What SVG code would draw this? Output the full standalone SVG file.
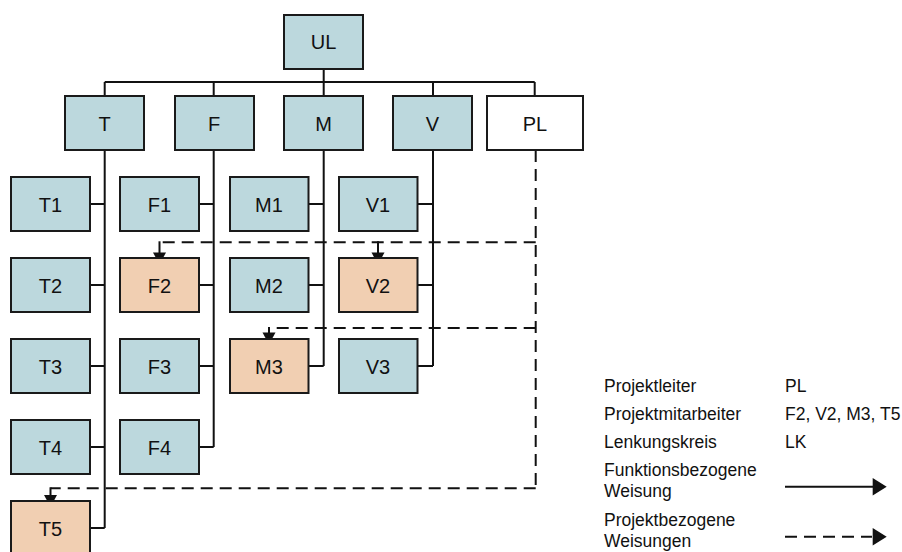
<svg xmlns="http://www.w3.org/2000/svg" width="902" height="552" viewBox="0 0 902 552">
<style>
.b{fill:#BCD8DD;stroke:#1a1a1a;stroke-width:2}
.o{fill:#F1CFB2;stroke:#1a1a1a;stroke-width:2}
.w{fill:#ffffff;stroke:#1a1a1a;stroke-width:2}
.t{font-family:"Liberation Sans",Arial,sans-serif;font-size:20px;fill:#111;text-anchor:middle}
.l{font-family:"Liberation Sans",Arial,sans-serif;font-size:17.5px;fill:#111}
.c{fill:none;stroke:#111;stroke-width:2}
.d{fill:none;stroke:#111;stroke-width:2;stroke-dasharray:12 7}
.h{fill:#111}
</style>
<g id="connectors">
<path class="c" d="M323.7,69 V96 M104.7,82 H534.7 M104.7,82 V96 M213.7,82 V96 M433,82 V96 M534.7,82 V96"/>
<path class="c" d="M104.7,150 V528 M90,204 H104.7 M90,285 H104.7 M90,366 H104.7 M90,447 H104.7 M90,528 H104.7"/>
<path class="c" d="M213.7,150 V447 M199,204 H213.7 M199,285 H213.7 M199,366 H213.7 M199,447 H213.7"/>
<path class="c" d="M323.7,150 V366 M308.5,204 H323.7 M308.5,285 H323.7 M308.5,366 H323.7"/>
<path class="c" d="M433,150 V366 M417.5,204 H433 M417.5,285 H433 M417.5,366 H433"/>
<path class="d" d="M535.7,150 V488.3"/>
<path class="d" d="M535.7,242.3 H159.5"/>
<path class="d" d="M535.7,328 H269"/>
<path class="d" d="M535.7,488.3 H50.5"/>
<path class="c" d="M159.5,241.3 V254"/>
<polygon class="h" points="153,252.5 166,252.5 159.5,264.5"/>
<path class="c" d="M378,241.3 V254"/>
<polygon class="h" points="371.5,252.5 384.5,252.5 378,264.5"/>
<path class="c" d="M269,327 V334"/>
<polygon class="h" points="262.5,332.5 275.5,332.5 269,344.5"/>
<path class="c" d="M50.5,487.3 V496"/>
<polygon class="h" points="44,495 57,495 50.5,507"/>
</g>
<g id="UL"><rect class="b" x="284" y="15" width="79" height="54"/><text class="t" x="323.5" y="49">UL</text></g>
<g id="T"><rect class="b" x="65" y="96" width="79" height="54"/><text class="t" x="104.5" y="131">T</text></g>
<g id="F"><rect class="b" x="175" y="96" width="79" height="54"/><text class="t" x="214" y="131">F</text></g>
<g id="M"><rect class="b" x="284" y="96" width="79" height="54"/><text class="t" x="323.5" y="131">M</text></g>
<g id="V"><rect class="b" x="393" y="96" width="79" height="54"/><text class="t" x="432.5" y="131">V</text></g>
<g id="PL"><rect class="w" x="487" y="96" width="96" height="54"/><text class="t" x="535" y="131">PL</text></g>
<g id="T1"><rect class="b" x="11" y="177" width="79" height="54"/><text class="t" x="50.5" y="212">T1</text></g>
<g id="T2"><rect class="b" x="11" y="258" width="79" height="54"/><text class="t" x="50.5" y="293">T2</text></g>
<g id="T3"><rect class="b" x="11" y="339" width="79" height="54"/><text class="t" x="50.5" y="374">T3</text></g>
<g id="T4"><rect class="b" x="11" y="420" width="79" height="54"/><text class="t" x="50.5" y="455">T4</text></g>
<g id="T5"><rect class="o" x="11" y="501" width="79" height="54"/><text class="t" x="50.5" y="536">T5</text></g>
<g id="F1"><rect class="b" x="120" y="177" width="79" height="54"/><text class="t" x="159.5" y="212">F1</text></g>
<g id="F2"><rect class="o" x="120" y="258" width="79" height="54"/><text class="t" x="159.5" y="293">F2</text></g>
<g id="F3"><rect class="b" x="120" y="339" width="79" height="54"/><text class="t" x="159.5" y="374">F3</text></g>
<g id="F4"><rect class="b" x="120" y="420" width="79" height="54"/><text class="t" x="159.5" y="455">F4</text></g>
<g id="M1"><rect class="b" x="230" y="177" width="78.5" height="54"/><text class="t" x="269" y="212">M1</text></g>
<g id="M2"><rect class="b" x="230" y="258" width="78.5" height="54"/><text class="t" x="269" y="293">M2</text></g>
<g id="M3"><rect class="o" x="230" y="339" width="78.5" height="54"/><text class="t" x="269" y="374">M3</text></g>
<g id="V1"><rect class="b" x="339" y="177" width="78.5" height="54"/><text class="t" x="378" y="212">V1</text></g>
<g id="V2"><rect class="o" x="339" y="258" width="78.5" height="54"/><text class="t" x="378" y="293">V2</text></g>
<g id="V3"><rect class="b" x="339" y="339" width="78.5" height="54"/><text class="t" x="378" y="374">V3</text></g>
<g id="legend">
<text class="l" x="604" y="391.5">Projektleiter</text>
<text class="l" x="785" y="391.5">PL</text>
<text class="l" x="604" y="420">Projektmitarbeiter</text>
<text class="l" x="785" y="420">F2, V2, M3, T5</text>
<text class="l" x="604" y="447.5">Lenkungskreis</text>
<text class="l" x="785" y="447.5">LK</text>
<text class="l" x="604" y="476">Funktionsbezogene</text>
<text class="l" x="604" y="497">Weisung</text>
<text class="l" x="604" y="526">Projektbezogene</text>
<text class="l" x="604" y="547">Weisungen</text>
<line class="c" x1="785" y1="486.7" x2="874" y2="486.7"/>
<polygon class="h" points="872.7,478 886.7,486.7 872.7,495.4"/>
<line class="d" x1="785" y1="536.7" x2="872" y2="536.7"/>
<polygon class="h" points="872.7,528 886.7,536.7 872.7,545.4"/>
</g>
</svg>
